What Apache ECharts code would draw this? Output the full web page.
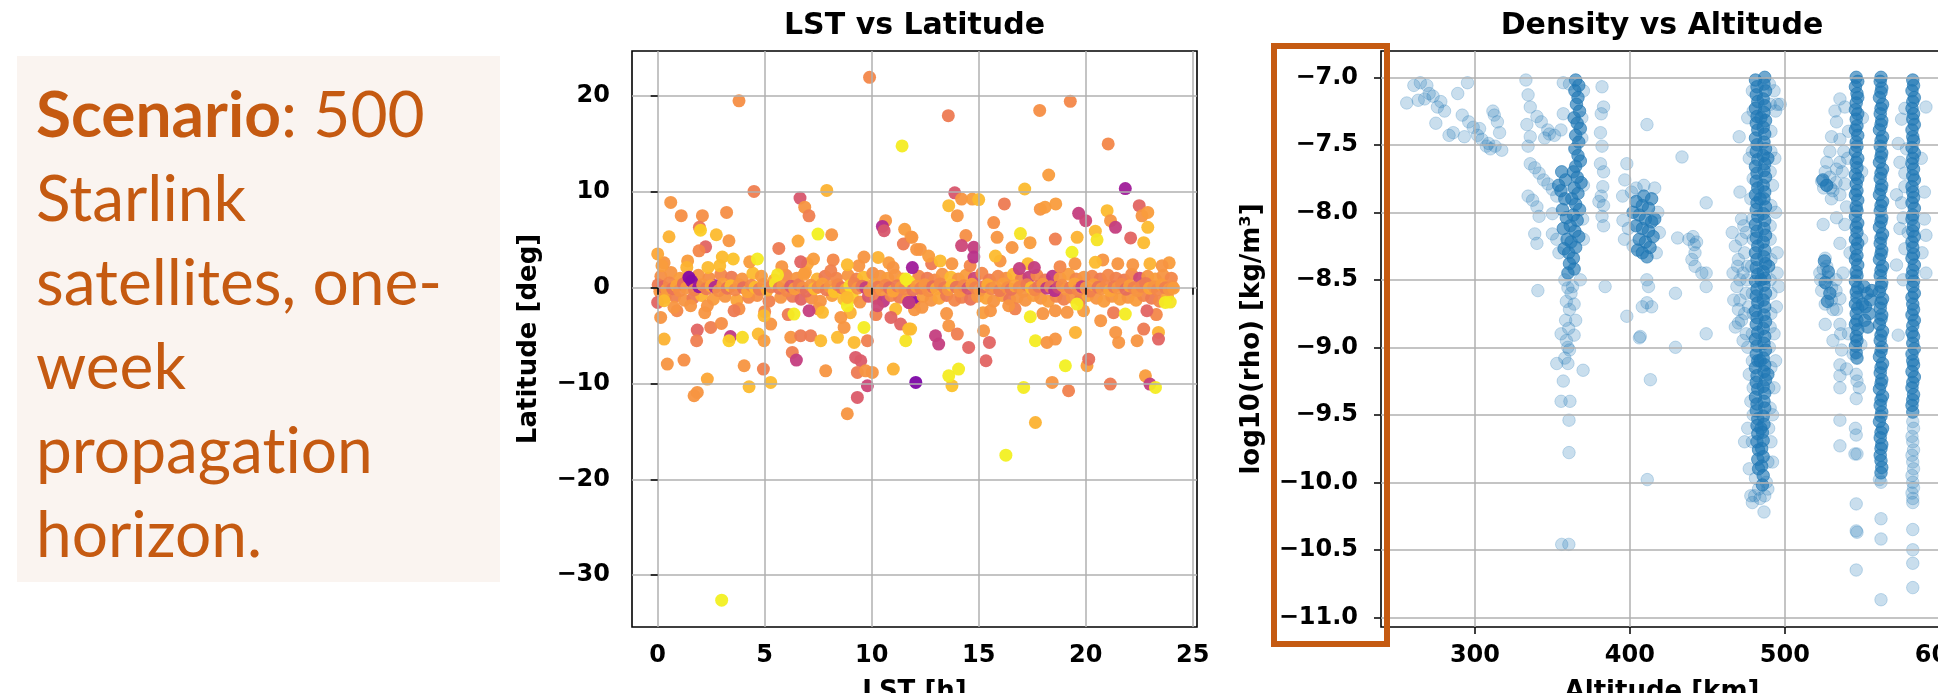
<!DOCTYPE html>
<html>
<head>
<meta charset="utf-8">
<script src="https://cdn.jsdelivr.net/npm/echarts@6/dist/echarts.min.js"></script>
<style>
  html, body { margin: 0; padding: 0; background: #ffffff; }
  #chart { width: 1938px; height: 693px; }
</style>
</head>
<body>
<div id="chart"></div>
<script>
// ---------- Scenario note ----------
const noteTitle = 'Scenario';
const noteFirstRest = ': 500';
// a line given as pieces is drawn piece by piece, so "ti" never fuses into a ligature
const noteLines = ['Starlink', 'satellites, one-', 'week', ['propagat', 'ion'], 'horizon.'];

// ---------- Left panel: LST vs Latitude ----------
const lstTicks = [0, 5, 10, 15, 20, 25];
const latTicks = [-30, -20, -10, 0, 10, 20];

// [LST h, latitude deg, colour value 0..1]
const latOutliersNorth = [
  [3.8,19.5,.68],[9.9,21.95,.66],[13.58,17.95,.62],[17.85,18.5,.68],[19.28,19.45,.66],[21.05,15.0,.66],
  [11.42,14.8,.92],[18.27,11.76,.72],[17.15,10.3,.8],[21.85,10.35,.3],[13.88,9.9,.5],[4.5,10.05,.63],[7.9,10.15,.78],
  [0.61,8.9,.7],[1.1,7.52,.68],[2.09,7.52,.68],[1.95,6.3,.6],[2.0,6.0,.85],[3.22,7.86,.68],[0.53,5.32,.78],
  [2.74,5.53,.8],[3.33,4.9,.7],[2.24,4.27,.55],[1.93,3.85,.66],[0.0,3.53,.75],[3.02,3.2,.8],[3.53,3.0,.82],
  [4.66,3.0,.92],[0.2,2.3,.72],[1.36,2.12,.78],[2.35,2.12,.8],[1.46,1.08,.22],[5.6,1.35,.9],[5.66,4.1,.62],
  [6.56,4.87,.75],[6.65,9.35,.5],[6.87,8.4,.7],[7.07,7.5,.63],[7.49,5.6,.93],[8.13,5.53,.7],[7.28,3.0,.72],
  [8.86,2.4,.8],[9.64,3.2,.7],[6.68,2.7,.55],[8.09,1.76,.64],[6.84,1.4,.72],[10.65,7.0,.7],[10.5,6.4,.35],
  [10.58,5.95,.5],[11.54,6.1,.72],[11.83,5.3,.72],[11.48,4.56,.62],[12.1,4.0,.7],[10.3,3.16,.78],[11.0,2.1,.7],
  [11.9,2.1,.3],[11.6,0.9,.92],[13.6,8.56,.8],[14.2,9.25,.7],[14.7,9.25,.72],[15.0,9.2,.8],[14.0,7.52,.7],
  [16.2,8.74,.62],[17.88,8.2,.7],[18.1,8.4,.72],[18.6,8.74,.72],[19.67,7.76,.42],[20.0,7.0,.45],[21.0,8.04,.8],
  [21.16,7.0,.7],[21.39,6.3,.42],[22.5,8.56,.55],[22.63,7.5,.7],[22.9,7.86,.72],[22.9,6.3,.8],[22.1,5.2,.55],
  [22.71,4.7,.8],[15.7,6.8,.68],[15.86,5.26,.7],[14.4,5.44,.68],[14.2,4.4,.45],[14.77,4.22,.42],[14.77,3.2,.38],
  [16.95,5.65,.9],[17.4,4.7,.72],[16.56,4.2,.7],[18.58,5.08,.63],[19.6,5.26,.78],[20.45,5.9,.8],[20.53,5.0,.9],
  [19.36,3.7,.93],[12.27,4.0,.7],[11.88,5.26,.7],[12.66,3.3,.72],[13.2,2.8,.8],[13.75,2.5,.7],[15.78,3.3,.8],
  [16.9,2.0,.42],[17.6,2.1,.42],[20.45,2.65,.8],[21.5,2.5,.7],[23.0,2.5,.78],[23.57,2.3,.7],[19.5,2.5,.7]
];

const latOutliersSouth = [
  [1.7,-11.27,.7],[1.85,-10.92,.7],[2.32,-9.53,.75],[0.45,-7.97,.7],[1.23,-7.55,.68],[0.3,-5.36,.78],
  [0.14,-3.1,.7],[0.0,-1.53,.55],[1.85,-4.42,.55],[1.82,-5.53,.63],[2.48,-4.14,.63],[2.98,-3.72,.68],
  [2.32,-1.88,.7],[1.54,-1.88,.7],[0.76,-2.05,.7],[0.3,-1.36,.8],[3.57,-2.4,.62],[3.4,-5.1,.4],
  [3.33,-5.53,.85],[3.96,-5.18,.88],[4.04,-8.14,.7],[4.94,-8.49,.64],[4.27,-10.33,.8],[5.28,-9.88,.8],
  [4.7,-4.83,.8],[4.97,-5.53,.72],[5.28,-3.79,.7],[4.97,-2.92,.8],[6.37,-2.75,.92],[7.07,-2.4,.42],
  [7.7,-2.57,.8],[6.22,-5.18,.7],[6.68,-5.01,.62],[7.15,-5.01,.62],[7.62,-5.53,.8],[6.29,-6.75,.63],
  [6.48,-7.55,.42],[7.85,-8.67,.7],[8.4,-5.18,.8],[8.71,-4.14,.7],[8.56,-3.1,.7],[8.86,-1.88,.92],
  [9.18,-5.71,.8],[9.8,-5.53,.63],[9.64,-4.14,.92],[9.25,-7.27,.52],[9.49,-7.62,.52],[9.33,-8.84,.62],
  [9.72,-8.67,.7],[10.03,-8.84,.7],[9.8,-10.23,.45],[9.33,-11.45,.52],[8.86,-13.15,.7],[11.01,-8.49,.78],
  [12.06,-9.88,.2],[10.27,-1.88,.45],[11.74,-1.53,.35],[11.12,-2.23,.8],[10.9,-3.1,.55],[11.35,-3.79,.55],
  [11.82,-4.31,.8],[11.59,-5.53,.9],[8.86,-1.01,.8],[17.65,-14.06,.78],[13.75,-10.23,.82],[13.6,-9.19,.92],
  [14.06,-8.49,.92],[15.34,-7.62,.55],[15.5,-5.71,.55],[15.23,-4.49,.7],[17.1,-10.4,.92],[18.43,-9.88,.7],
  [19.2,-10.75,.64],[19.05,-8.14,.93],[20.06,-8.14,.72],[20.14,-7.45,.58],[21.15,-10.05,.62],[22.79,-9.19,.72],
  [23.0,-10.05,.42],[23.26,-10.4,.92],[12.98,-5.01,.42],[13.13,-5.88,.42],[13.6,-3.97,.7],[14.0,-4.84,.63],
  [14.53,-6.23,.55],[17.65,-5.53,.92],[18.19,-5.71,.7],[18.58,-5.36,.7],[19.52,-4.66,.78],[20.7,-3.44,.7],
  [21.4,-4.66,.7],[21.54,-5.71,.7],[22.4,-5.53,.7],[22.71,-4.31,.62],[23.4,-4.66,.78],[23.4,-5.36,.55],
  [17.41,-3.03,.92],[21.85,-2.75,.92],[23.72,-1.53,.92],[22.86,-2.4,.55],[19.59,-1.71,.92],[11.73,-1.53,.4],
  [12.35,-2.05,.7],[15.55,-2.4,.7],[16.4,-1.88,.7],[11.73,-4.31,.8],[18.58,-2.4,.7],[19.13,-2.57,.7],
  [2.99,-32.6,.93],[16.27,-17.47,.93]
];

const latBandCore = [
  [0.02,0.3,.62],[0.1,-0.4,.7],[0.25,0.1,.55],[0.42,-0.2,.72],[0.55,0.5,.66],[0.7,-0.1,.6],[0.88,0.2,.74],
  [1.02,-0.3,.68],[1.2,0.4,.58],[1.35,0.0,.7],[1.58,0.7,.22],[1.72,-0.2,.64],[1.92,0.1,.28],[2.1,0.3,.7],
  [2.28,-0.1,.62],[2.5,0.2,.75],[2.68,0.05,.35],[2.85,-0.3,.68],[3.05,0.4,.72],[3.25,-0.05,.6],[3.42,0.2,.8],
  [3.62,-0.2,.66],[3.8,0.3,.7],[4.0,0.0,.58],[4.2,-0.4,.74],[4.38,0.25,.66],[4.55,0.05,.8],[4.75,-0.15,.62],
  [4.95,0.35,.7],[5.12,-0.25,.76],[5.3,0.1,.64],[5.5,0.45,.9],[5.68,-0.05,.6],[5.85,0.2,.7],[6.05,-0.3,.66],
  [6.22,0.15,.52],[6.4,-0.1,.72],[6.6,0.3,.62],[6.78,0.0,.68],[6.95,-0.35,.58],[7.15,0.25,.7],[7.32,-0.1,.8],
  [7.5,0.05,.66],[7.7,0.4,.72],[7.88,-0.2,.62],[8.05,0.1,.7],[8.25,-0.4,.82],[8.42,0.3,.66],[8.6,0.0,.6],
  [8.8,-0.15,.74],[8.98,0.2,.88],[9.18,0.45,.64],[9.35,-0.05,.7],[9.55,0.15,.6],[9.72,0.0,.42],[9.9,-0.3,.68],
  [10.1,0.35,.72],[10.28,0.05,.62],[10.45,-0.2,.7],[10.65,0.25,.66],[10.82,0.0,.58],[11.0,-0.35,.74],
  [11.2,0.2,.62],[11.38,0.05,.7],[11.55,-0.1,.66],[11.75,0.6,.9],[11.92,-0.25,.6],[12.1,0.15,.72],
  [12.3,-0.05,.64],[12.48,0.3,.7],[12.65,-0.3,.68],[12.85,0.1,.58],[13.02,-0.1,.74],[13.2,0.4,.66],
  [13.4,0.0,.62],[13.58,-0.2,.7],[13.75,0.25,.8],[13.95,0.05,.6],[14.12,-0.35,.7],[14.3,0.2,.66],
  [14.5,-0.05,.5],[14.68,0.35,.72],[14.85,0.0,.64],[15.05,-0.25,.7],[15.22,0.1,.6],[15.42,0.3,.76],
  [15.6,-0.1,.66],[15.78,0.05,.7],[15.98,-0.3,.62],[16.15,0.4,.72],[16.35,0.0,.68],[16.52,-0.15,.6],
  [16.7,0.2,.74],[16.9,0.05,.66],[17.08,-0.35,.7],[17.25,0.3,.62],[17.45,0.0,.8],[17.62,-0.2,.66],
  [17.8,0.15,.6],[18.0,0.35,.7],[18.18,-0.05,.4],[18.35,0.1,.62],[18.55,-0.3,.36],[18.72,0.05,.45],
  [18.9,0.25,.68],[19.1,-0.15,.7],[19.28,0.0,.62],[19.48,0.4,.74],[19.65,-0.25,.66],[19.82,0.1,.42],
  [20.02,0.0,.7],[20.2,-0.35,.64],[20.38,0.3,.72],[20.58,0.05,.6],[20.75,-0.1,.7],[20.95,0.2,.66],
  [21.12,-0.3,.74],[21.32,0.1,.62],[21.5,0.0,.7],[21.68,0.35,.66],[21.88,-0.15,.58],[22.05,0.2,.72],
  [22.25,0.0,.64],[22.42,-0.3,.7],[22.62,0.15,.66],[22.8,0.45,.62],[22.98,-0.05,.74],[23.18,0.1,.7],
  [23.35,-0.2,.66],[23.55,0.3,.72],[23.72,0.0,.64],[23.9,-0.15,.7],[24.05,0.1,.68],[24.1,-0.05,.72]
];

const latBandSpread = [
  [0.15,1.2,.68],[0.35,-1.0,.72],[0.62,1.6,.7],[0.8,-0.9,.64],[1.05,1.0,.72],[1.25,-1.3,.7],[1.45,0.9,.66],
  [1.65,-1.1,.62],[1.9,1.3,.7],[2.05,-0.8,.78],[2.4,1.0,.68],[2.6,-1.2,.72],[2.72,0.2,.3],[2.95,1.4,.66],
  [3.15,-0.9,.7],[3.45,1.1,.62],[3.7,-1.3,.74],[3.95,0.9,.7],[4.25,-1.0,.66],[4.45,1.5,.8],[4.65,-0.8,.68],
  [4.85,1.2,.72],[5.2,-1.4,.64],[5.45,0.8,.76],[5.75,-1.0,.7],[6.0,1.3,.66],[6.3,-0.9,.62],[6.5,1.0,.7],
  [6.7,-1.2,.55],[6.9,1.6,.72],[7.2,-1.1,.68],[7.45,0.9,.78],[7.6,-1.4,.7],[7.82,1.2,.62],[8.15,-0.8,.72],
  [8.35,1.0,.66],[8.7,-1.2,.8],[8.9,1.3,.7],[9.1,-1.0,.85],[9.3,0.9,.64],[9.45,-1.5,.7],[9.62,1.1,.8],
  [9.85,-0.9,.5],[10.05,1.5,.68],[10.2,-1.1,.62],[10.4,1.2,.7],[10.55,-1.4,.4],[10.75,1.0,.72],[10.9,-0.8,.66],
  [11.1,1.3,.7],[11.3,-1.0,.62],[11.45,0.9,.74],[11.68,-1.2,.7],[11.98,-1.5,.25],[12.2,1.2,.66],[12.4,-0.9,.72],
  [12.6,1.0,.62],[12.78,-1.3,.7],[12.95,0.8,.66],[13.15,-1.1,.74],[13.3,1.4,.7],[13.5,-0.8,.62],[13.7,1.1,.8],
  [13.88,-1.3,.66],[14.05,0.9,.7],[14.2,-1.0,.64],[14.4,1.3,.72],[14.62,-1.2,.6],[14.8,1.0,.45],[14.95,-0.9,.7],
  [15.15,1.5,.66],[15.35,-1.1,.74],[15.5,0.8,.62],[15.7,-1.4,.7],[15.9,1.2,.66],[16.1,-0.8,.72],[16.28,1.0,.68],
  [16.45,-1.2,.6],[16.62,1.4,.78],[16.8,-1.0,.7],[17.0,0.9,.64],[17.18,-1.3,.7],[17.35,1.1,.42],[17.55,-0.8,.72],
  [17.72,1.3,.66],[17.9,-1.1,.7],[18.1,0.8,.62],[18.25,-1.4,.72],[18.45,1.2,.38],[18.62,-0.9,.66],[18.8,1.0,.7],
  [18.98,-1.2,.64],[19.2,1.4,.72],[19.38,-1.0,.7],[19.55,0.9,.66],[19.75,-1.3,.62],[19.92,1.1,.7],[20.1,-0.8,.74],
  [20.3,1.2,.66],[20.5,-1.1,.7],[20.68,0.9,.62],[20.85,-1.4,.72],[21.05,1.3,.66],[21.22,-0.9,.7],[21.42,1.0,.64],
  [21.6,-1.2,.72],[21.8,0.8,.62],[21.98,-1.0,.7],[22.15,1.4,.66],[22.35,-1.3,.72],[22.52,1.0,.45],[22.7,-0.8,.66],
  [22.9,1.2,.7],[23.08,-1.1,.62],[23.25,0.9,.72],[23.45,-1.4,.66],[23.62,1.3,.7],[23.82,-0.9,.74],[24.0,1.0,.66],
  [23.95,-1.5,.9],
  [0.3,2.6,.7],[0.9,-2.4,.66],[1.4,2.8,.72],[2.2,-2.6,.7],[2.9,2.3,.8],[3.8,-2.2,.68],[4.3,2.7,.72],[5.0,-2.5,.66],
  [5.8,2.2,.7],[6.1,-2.8,.62],[7.0,2.5,.74],[7.5,-2.2,.7],[8.2,2.9,.66],[9.0,-2.6,.78],[9.4,2.3,.7],[10.2,-2.8,.64],
  [10.8,2.6,.72],[12.0,-2.3,.7],[12.8,2.5,.62],[13.5,-2.7,.7],[14.6,2.3,.66],[15.2,-2.6,.72],[16.0,2.8,.7],
  [16.7,-2.2,.64],[17.3,2.5,.8],[18.0,-2.7,.7],[18.8,2.2,.66],[19.9,-2.4,.72],[20.8,2.9,.7],[21.3,-2.6,.62],
  [22.2,2.4,.7],[23.3,-2.8,.66],[23.9,2.6,.72]
];

// ---------- Right panel: Density vs Altitude ----------
const altTicks = [300, 400, 500, 600];
const rhoTicks = [-11, -10.5, -10, -9.5, -9, -8.5, -8, -7.5, -7];

// [altitude km, log10(rho)] — sparsely populated regions
const shellLow = [
  [256,-7.19],[260.6,-7.06],[264.8,-7.04],[269,-7.06],[263.4,-7.17],[267.6,-7.16],[273,-7.14],[275.8,-7.22],
  [274.8,-7.34],[280.4,-7.25],[286,-7.41],[288.9,-7.12],[291.8,-7.28],[295.2,-7.04],[296,-7.33],[298.9,-7.37],
  [301.7,-7.43],[304.5,-7.46],[308.8,-7.49],[311.6,-7.25],[314.5,-7.33],[313,-7.51],[317.3,-7.54],[315.9,-7.41],
  [307.4,-7.51],[283.3,-7.43],[293.2,-7.44],[270.5,-7.12],[278,-7.18],[303,-7.38],[310,-7.53],[312.5,-7.28]
];
const shell340 = [
  [332.9,-7.02],[334.3,-7.13],[335.7,-7.22],[333.5,-7.35],[335.7,-7.44],[340,-7.29],[342.8,-7.33],[347,-7.39],
  [351.3,-7.43],[355.5,-7.39],[334.3,-7.51],[335.7,-7.64],[338.6,-7.67],[341.4,-7.71],[344.3,-7.76],[347.1,-7.79],
  [350,-7.83],[352.8,-7.88],[334.3,-7.88],[337.2,-7.91],[340,-7.96],[341.4,-8.03],[338.6,-8.16],[340,-8.23],
  [350,-8.01],[350,-8.16],[352.8,-8.2],[354.2,-8.3],[357,-7.04],[357,-7.27],[340.6,-8.58],[345,-7.45],[348,-7.42]
];
const shell365 = [
  [358,-8.5],[360,-8.56],[362,-8.6],[359,-8.66],[361,-8.72],[358.5,-8.8],[360.5,-8.86],[359,-8.95],[361,-9.02],
  [358,-9.08],[360,-9.12],[363,-8.55],[364,-8.68],[365,-8.8],[368,-8.5],[369,-7.45],[370,-7.8],[370,-8.2],
  [369.5,-8.05],[355.6,-8.9],[359.9,-9.0],[352.8,-9.12],[357,-9.25],[355.6,-9.4],[361.3,-9.4],[360.7,-9.54],
  [360.7,-9.78],[369.8,-9.17],[364,-8.91],[356,-10.46],[360.6,-10.46],[361,-7.05],[370,-7.1],[369,-7.3],
  [382,-7.07],[383,-7.22],[381.5,-7.27],[381,-7.41],[382,-7.51],[381,-7.64],[383,-7.7],[382.5,-7.81],
  [381.5,-7.88],[383,-7.95],[382,-8.03],[383,-8.1],[384,-8.55],[380,-7.92]
];
const shell410 = [
  [398,-7.64],[396.7,-7.76],[395.3,-7.88],[395.5,-8.06],[396.5,-8.2],[398,-8.77],[406.7,-8.92],[410.9,-8.5],
  [411,-8.67],[414,-8.7],[411,-7.35],[406.1,-8.93],[413.2,-9.24],[411.2,-9.98],[399,-8.12],[401,-7.85],
  [404,-7.82],[409,-7.8],[416,-7.82],[418,-8.0],[419,-8.15],[417,-8.3],[402,-8.25],[412,-8.55],[408,-8.7],
  [430.8,-8.19],[433.6,-7.59],[429.4,-8.6],[440.7,-8.18],[441.5,-8.24],[442,-8.3],[442,-8.4],[446.4,-8.45],
  [449.2,-8.45],[449.2,-8.55],[449.2,-7.93],[449.2,-8.9],[429.4,-9.0],[438,-8.2],[443,-8.22],[440,-8.35]
];
const shell485 = [
  [466,-8.15],[468,-8.25],[470,-8.35],[466.5,-8.45],[469,-8.55],[471,-8.5],[467,-8.65],[470,-8.72],[472,-8.8],
  [468,-8.85],[474,-8.3],[475,-8.6],[473,-8.95],[470.5,-7.44],[471,-7.85],[470,-8.82],[472,-8.05],[475,-8.15],
  [476,-8.4],[474,-8.75],[476,-9.0],[477,-9.2],[476,-9.6],[477,-9.9],[474,-9.7],[478,-10.1],[479,-10.15],
  [478,-9.4],[476,-7.3],[477,-7.6],[478,-7.9],[493,-7.1],[494,-7.25],[495,-7.2],[493.5,-7.6],[494,-8.0],
  [495,-8.3],[496,-8.55],[494.5,-8.7],[493,-8.9],[494,-9.1],[493,-9.3],[492,-9.5],[491,-9.7],[489,-9.85],
  [488,-10.0],[487,-10.1],[486.5,-10.22],[483,-10.05],[481,-9.97],[480.5,-10.1],[492,-7.8],[495,-8.45],
  [497,-7.2],[492,-9.85],[484,-10.12],[489,-10.05],[490,-7.05],[491,-7.4],[490.5,-8.2],[491,-8.6],[490,-9.0],
  [489.5,-9.3],[479,-7.1],[478.5,-8.4],[479,-8.9],[479.5,-9.3],
  [479.5,-7.25],[479,-7.55],[479.5,-7.75],[479,-8.05],[479.5,-8.2],[479,-8.6],[479.5,-8.75],[479,-9.1],
  [479.5,-9.5],[479,-9.7],[490.5,-7.2],[491,-7.55],[490.5,-7.7],[491,-7.95],[490.5,-8.1],[491,-8.35],
  [490.5,-8.5],[491,-8.75],[490.5,-8.85],[491,-9.15],[490.5,-9.45],[489.5,-9.6],
  [472,-8.2],[473,-8.45],[471,-8.65],[475,-8.9],[473.5,-8.1],[469.5,-8.4],[475.5,-8.5],[476.5,-8.7]
];
const shell535 = [
  [535.5,-7.16],[532.3,-7.25],[538.7,-7.22],[533.3,-7.33],[530.1,-7.44],[535.5,-7.46],[529,-7.55],[527,-7.63],
  [523.7,-7.77],[529,-7.74],[533.3,-7.68],[535.5,-7.63],[538.7,-7.79],[535.5,-7.87],[539.8,-7.96],[533.3,-8.04],
  [538.7,-8.09],[524.7,-8.09],[535.5,-8.23],[526,-8.34],[524.7,-8.42],[527,-8.53],[523.7,-8.58],[530.1,-8.56],
  [535.5,-8.64],[533.3,-8.72],[526,-8.83],[535.5,-8.83],[536.6,-9.02],[535.5,-9.13],[535.5,-9.21],[535.5,-9.3],
  [539.8,-9.16],[535.5,-9.54],[535.5,-9.73],[545.2,-9.79],[527,-7.8],[531,-7.84],[522.5,-8.45],[528,-8.48],
  [533,-8.5],[526,-8.68],[531,-8.72],[525,-7.82],[530,-7.9],[541,-7.4],[542,-8.3],[541,-8.9],
  [546,-9.2],[546.5,-9.25],[546,-9.38],[545.5,-9.6],[546,-9.65],[546.5,-9.79],[546,-10.16],[546,-10.36],
  [546.5,-10.37],[546,-10.65],[544,-9.05],[549,-8.98],[548,-9.3],[549.5,-8.2],[550,-7.3],[549.5,-7.7],
  [526,-7.7],[529.5,-7.82],[533,-7.78],[537,-7.7],[523,-8.5],[527,-8.4],[530,-8.65],[533,-8.58],
  [537.5,-8.45],[536,-8.9],[531,-8.95],[538,-7.55],[540.5,-7.6]
];
const shell575 = [
  [577.4,-7.23],[575.3,-7.31],[573.1,-7.49],[578.5,-7.53],[574.2,-7.63],[577.4,-7.71],[577.4,-7.81],[572,-7.87],
  [575.3,-7.93],[576.3,-8.04],[574.2,-8.12],[579.5,-8.15],[577.4,-8.27],[576.3,-8.5],[573.1,-8.91],[572,-8.39],
  [591,-8.17],[590,-8.05],[591,-8.45],[590,-7.85],[591,-7.22],[588,-7.6],[588.5,-8.3],
  [562,-10.0],[562,-10.27],[562,-10.42],[562,-10.87],[561,-9.98],
  [582.5,-9.55],[583,-9.6],[582,-9.66],[582.5,-9.7],[583,-9.76],[582,-9.8],[582.5,-9.85],[583,-9.9],
  [582,-9.95],[582.5,-10.0],[583,-10.04],[582,-10.08],[582.5,-10.12],[582.5,-10.15],[582.5,-10.35],
  [582.5,-10.5],[582.5,-10.6],[582.5,-10.78]
];

// dense cores, where many satellites pile up on top of each other
const core365 = [
  [365,-7.02],[367,-7.06],[364.5,-7.1],[366.5,-7.15],[365.5,-7.2],[367.5,-7.25],[364,-7.3],[366,-7.34],
  [368,-7.38],[365,-7.43],[367,-7.48],[364.5,-7.53],[366.5,-7.58],[368,-7.62],[365,-7.66],[363.5,-7.7],
  [366,-7.74],[368.5,-7.78],[364,-7.82],[366.5,-7.86],[362.5,-7.9],[365,-7.94],[367.5,-7.98],[363.5,-8.02],
  [366,-8.06],[361.5,-8.1],[364.5,-8.14],[367,-8.18],[362,-8.22],[365,-8.26],[360.5,-8.3],[363.5,-8.34],
  [361,-8.38],[364,-8.42],[360,-8.45],[356,-7.7],[358.5,-7.76],[355.5,-7.84],[358,-7.9],[356.5,-7.98],
  [359,-8.04],[357,-8.12],[359.5,-8.2],[357.5,-8.27],[354,-7.8]
];
const core410 = [
  [404,-7.92],[408,-7.95],[412,-7.97],[406,-8.02],[410,-8.05],[414,-8.07],[404,-8.1],[408,-8.12],[412,-8.14],
  [415,-8.18],[406,-8.2],[410,-8.22],[413,-8.26],[408,-8.3],[411,-8.33],[405,-8.28],[416,-8.05],[402,-8.0],
  [414,-7.9],[409,-7.88]
];
const core485 = [
  [481,-7.02],[482,-7.07],[481.5,-7.13],[482.5,-7.18],[481,-7.23],[482,-7.29],[481.5,-7.34],[482.5,-7.39],
  [481,-7.45],[482,-7.5],[481.5,-7.55],[482.5,-7.61],[481,-7.66],[482,-7.71],[481.5,-7.77],[482.5,-7.82],
  [481,-7.87],[482,-7.93],[481.5,-7.98],[482.5,-8.03],[481,-8.09],[482,-8.14],[481.5,-8.19],[482.5,-8.25],
  [481,-8.3],[482,-8.35],[481.5,-8.41],[482.5,-8.46],[481,-8.51],[482,-8.57],[481.5,-8.62],[482.5,-8.67],
  [481,-8.73],[482,-8.78],[481.5,-8.83],[482.5,-8.89],[481,-8.94],[482,-8.99],[481.5,-9.05],[482.5,-9.1],
  [481,-9.15],[482,-9.21],[481.5,-9.26],[482.5,-9.31],[481,-9.37],[482,-9.42],[481.5,-9.47],[482.5,-9.53],
  [482,-9.58],[482.5,-9.64],[482,-9.7],[483,-9.76],[482.5,-9.83],[483,-9.9],
  [487,-7.0],[486.5,-7.05],[487.5,-7.1],[486,-7.16],[487,-7.21],[486.5,-7.26],[487.5,-7.32],[486,-7.37],
  [487,-7.42],[486.5,-7.48],[487.5,-7.53],[486,-7.58],[487,-7.64],[486.5,-7.69],[487.5,-7.74],[486,-7.8],
  [487,-7.85],[486.5,-7.9],[487.5,-7.96],[486,-8.01],[487,-8.06],[486.5,-8.12],[487.5,-8.17],[486,-8.22],
  [487,-8.28],[486.5,-8.33],[487.5,-8.38],[486,-8.44],[487,-8.49],[486.5,-8.54],[487.5,-8.6],[486,-8.65],
  [487,-8.7],[486.5,-8.76],[487.5,-8.81],[486,-8.86],[487,-8.92],[486.5,-8.97],[487.5,-9.02],[486,-9.08],
  [487,-9.13],[486.5,-9.18],[487.5,-9.24],[486,-9.29],[487,-9.34],[486.5,-9.4],[487,-9.45],[486,-9.51],
  [486.5,-9.57],[485.5,-9.63],[486,-9.69],[485,-9.75],[486,-9.81],[485,-9.88],[486,-9.95],[485.5,-10.02],
  [484.5,-7.3],[484,-7.9],[484.5,-8.5],[484,-9.1],[484.5,-9.6],[489,-7.6],[489.5,-8.4],[489,-9.2]
];
const core546 = [
  [546,-7.0],[547,-7.03],[545.5,-7.07],[546.5,-7.12],[547,-7.15],[546,-7.19],[545.5,-7.24],[547,-7.27],
  [546,-7.31],[546.5,-7.36],[545.5,-7.39],[547,-7.43],[546,-7.48],[546.5,-7.51],[545.5,-7.55],[547,-7.6],
  [546,-7.63],[546.5,-7.67],[545.5,-7.72],[547,-7.75],[546,-7.79],[546.5,-7.84],[545.5,-7.87],[547,-7.91],
  [546,-7.96],[546.5,-7.99],[545.5,-8.03],[547,-8.08],[546,-8.11],[546.5,-8.15],[545.5,-8.2],[547,-8.23],
  [546,-8.27],[546.5,-8.32],[545.5,-8.35],[547,-8.39],[546,-8.44],[546.5,-8.47],[545.5,-8.51],[547,-8.56],
  [546,-8.59],[546.5,-8.63],[545.5,-8.68],[547,-8.71],[546,-8.75],[546.5,-8.8],[545.5,-8.83],[547,-8.87],
  [546,-8.92],[546.5,-8.95],[545.5,-8.99],[546,-9.04],[546.5,-9.08],
  [551,-8.55],[553,-8.6],[555,-8.65],[552,-8.7],[554.5,-8.75],[551.5,-8.8],[553.5,-8.85],[556,-8.58],[550,-8.68],
  [524.5,-7.76],[527,-7.8],[525.5,-8.36],[528,-8.44],[526,-8.52],[529,-8.6],[527.5,-8.66]
];
const core562 = [
  [562,-7.0],[561.5,-7.03],[562.5,-7.08],[562,-7.11],[561,-7.15],[563,-7.2],[562,-7.23],[561.5,-7.27],
  [562.5,-7.32],[562,-7.35],[561,-7.39],[563,-7.44],[562,-7.47],[561.5,-7.51],[562.5,-7.56],[562,-7.59],
  [561,-7.63],[563,-7.68],[562,-7.71],[561.5,-7.75],[562.5,-7.8],[562,-7.83],[561,-7.87],[563,-7.92],
  [562,-7.95],[561.5,-7.99],[562.5,-8.04],[562,-8.07],[561,-8.11],[563,-8.16],[562,-8.19],[561.5,-8.23],
  [562.5,-8.28],[562,-8.31],[561,-8.35],[563,-8.4],[562,-8.43],[561.5,-8.47],[562.5,-8.52],[562,-8.55],
  [561,-8.59],[563,-8.64],[562,-8.67],[561.5,-8.71],[562.5,-8.76],[562,-8.79],[561,-8.83],[563,-8.88],
  [562,-8.91],[561.5,-8.95],[562.5,-9.0],[562,-9.03],[561,-9.07],[563,-9.12],[562,-9.15],[561.5,-9.19],
  [562.5,-9.24],[562,-9.27],[561,-9.31],[563,-9.36],[562,-9.39],[561.5,-9.43],[562.5,-9.48],[562,-9.51],
  [561,-9.55],[563,-9.6],[562,-9.63],[561.5,-9.67],[562.5,-9.72],[562,-9.75],[561.5,-9.8],[562,-9.84],
  [562.5,-9.89],[562,-9.93]
];
const core582 = [
  [582.5,-7.02],[583,-7.06],[582,-7.1],[583.5,-7.15],[582.5,-7.18],[582,-7.23],[583,-7.27],[582.5,-7.31],
  [583.5,-7.35],[582,-7.39],[582.5,-7.44],[583,-7.47],[582,-7.52],[583.5,-7.56],[582.5,-7.6],[582,-7.64],
  [583,-7.68],[582.5,-7.73],[583.5,-7.76],[582,-7.81],[582.5,-7.85],[583,-7.89],[582,-7.93],[583.5,-7.97],
  [582.5,-8.02],[582,-8.05],[583,-8.1],[582.5,-8.14],[583.5,-8.18],[582,-8.22],[582.5,-8.26],[583,-8.31],
  [582,-8.34],[583.5,-8.39],[582.5,-8.43],[582,-8.47],[583,-8.51],[582.5,-8.55],[583.5,-8.6],[582,-8.63],
  [582.5,-8.68],[583,-8.72],[582,-8.76],[583.5,-8.8],[582.5,-8.84],[582,-8.89],[583,-8.92],[582.5,-8.97],
  [583.5,-9.01],[582,-9.05],[582.5,-9.1],[583,-9.13],[582,-9.18],[583.5,-9.22],[582.5,-9.26],[582,-9.3],
  [583,-9.35],[582.5,-9.39],[582,-9.43],[582.5,-9.48]
];

// ---------- colours and text styles ----------
const plasma = ['#0d0887','#41049d','#6a00a8','#8f0da4','#b12a90','#cc4778','#e16462','#f2844b','#fca636','#fcce25','#f0f921'];
const accent = '#c55a11';
const tickFont = { fontFamily: 'DejaVu Sans', fontWeight: 'bold', fontSize: 24, color: '#000' };
const nameFont = { fontFamily: 'DejaVu Sans', fontWeight: 'bold', fontSize: 26, color: '#000' };
const mpl = v => String(v).replace('-', '\u2212');

function valueAxis(grid, min, max, ticks, fmt, margin, extra) {
  return Object.assign({
    type: 'value', gridIndex: grid, min: min, max: max, z: 5,
    axisLine: { show: false },
    axisTick: { show: true, length: 7, customValues: ticks, lineStyle: { color: '#000', width: 1.5 } },
    axisLabel: Object.assign({ customValues: ticks, formatter: fmt, margin: margin }, tickFont),
    splitLine: { show: true, lineStyle: { color: '#b0b0b0', width: 1.5 } },
    nameLocation: 'middle', nameTextStyle: nameFont
  }, extra);
}

const chart = echarts.init(document.getElementById('chart'), null, { renderer: 'canvas' });

const noteX = 36, lineStep = 84, firstMid = 116, noteSize = 64;
const noteRich = {
  b: { fontFamily: 'Lato', fontWeight: 'bold', fontSize: noteSize, fill: accent },
  r: { fontFamily: 'Lato', fontWeight: 'normal', fontSize: noteSize, fill: accent }
};
const noteLine = (text, y) => ({
  type: 'text', x: noteX, y: y, z: 2,
  style: { text: text, verticalAlign: 'middle', rich: noteRich }
});
const noteGraphics = [
  { type: 'rect', shape: { x: 17, y: 56, width: 483, height: 526 }, style: { fill: '#faf4f0' }, z: 1 },
  noteLine('{b|' + noteTitle + '}{r|' + noteFirstRest + '}', firstMid)
].concat(noteLines.map((t, i) => noteLine(
  [].concat(t).map(piece => '{r|' + piece + '}').join(''),
  firstMid + (i + 1) * lineStep
)));

const gridBase = { show: true, borderColor: '#000', borderWidth: 1.6, backgroundColor: 'transparent', outerBoundsMode: 'none', containLabel: false };

const option = {
  animation: false,
  backgroundColor: '#ffffff',
  grid: [
    Object.assign({ left: 632, top: 51, width: 565, height: 576 }, gridBase),
    Object.assign({ left: 1381, top: 51, width: 562, height: 576 }, gridBase)
  ],
  visualMap: {
    show: false, type: 'continuous', min: -0.05, max: 0.95, dimension: 2, seriesIndex: [0],
    inRange: { color: plasma }
  },
  xAxis: [
    valueAxis(0, -1.2, 25.2, lstTicks, mpl, 17, { name: 'LST [h]', nameGap: 52 }),
    valueAxis(1, 239.4, 602, altTicks, mpl, 17, { name: 'Altitude [km]', nameGap: 52 })
  ],
  yAxis: [
    valueAxis(0, -35.4, 24.7, latTicks, mpl, 22, { name: 'Latitude [deg]', nameGap: 90 }),
    valueAxis(1, -11.072, -6.805, rhoTicks, v => mpl(v.toFixed(1)), 23, { name: 'log10(rho) [kg/m\u00b3]', nameGap: 116 })
  ],
  series: [
    {
      type: 'scatter', xAxisIndex: 0, yAxisIndex: 0, symbolSize: 13,
      data: latBandSpread.concat(latBandCore, latOutliersNorth, latOutliersSouth),
      itemStyle: { opacity: 0.95 }
    },
    {
      type: 'scatter', xAxisIndex: 1, yAxisIndex: 1, symbolSize: 12.5,
      data: shellLow.concat(shell340, shell365, shell410, shell485, shell535, shell575),
      itemStyle: { color: 'rgba(31,119,180,0.3)', borderColor: 'rgba(31,119,180,0.3)', borderWidth: 1 }
    },
    {
      type: 'scatter', xAxisIndex: 1, yAxisIndex: 1, symbolSize: 12.5,
      data: core365.concat(core410, core485, core546, core562, core582),
      itemStyle: { color: 'rgba(31,119,180,0.8)', borderColor: 'rgba(31,119,180,0.8)', borderWidth: 1 }
    }
  ],
  graphic: noteGraphics.concat([
    { type: 'text', x: 914.5, y: 26, z: 20,
      style: { text: 'LST vs Latitude', fontFamily: 'DejaVu Sans', fontWeight: 'bold', fontSize: 30, fill: '#000', align: 'center', verticalAlign: 'middle' } },
    { type: 'text', x: 1662, y: 26, z: 20,
      style: { text: 'Density vs Altitude', fontFamily: 'DejaVu Sans', fontWeight: 'bold', fontSize: 30, fill: '#000', align: 'center', verticalAlign: 'middle' } },
    { type: 'rect', z: 30, shape: { x: 1274, y: 46, width: 113, height: 598 },
      style: { fill: 'none', stroke: accent, lineWidth: 6 } }
  ])
};

chart.setOption(option);
</script>
</body>
</html>
